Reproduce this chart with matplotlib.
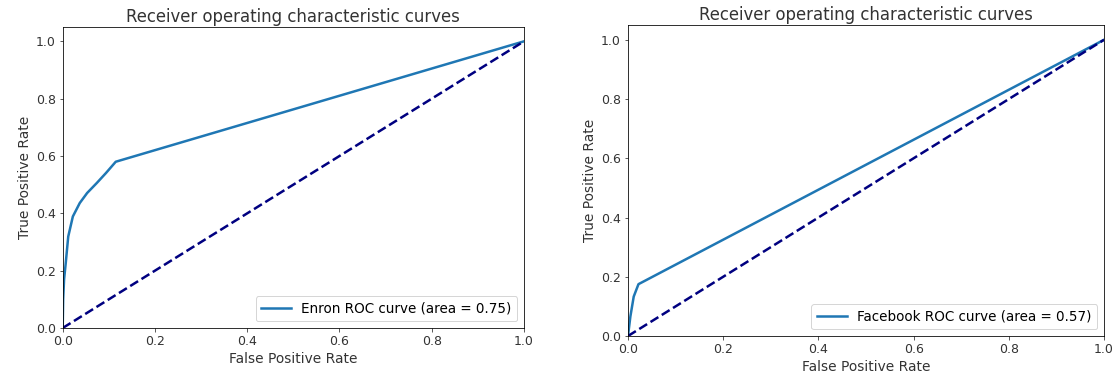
import matplotlib
matplotlib.use("Agg")
import matplotlib.pyplot as plt

# Enron ROC curve
enron_fpr = [0.0, 0.001, 0.003, 0.0065, 0.012, 0.022, 0.037, 0.053, 0.074, 0.094, 0.115, 1.0]
enron_tpr = [0.0, 0.10, 0.17, 0.225, 0.319, 0.389, 0.436, 0.471, 0.506, 0.541, 0.58, 1.0]
enron_auc = 0.75

# Facebook ROC curve
fb_fpr = [0.0, 0.005, 0.012, 0.022, 1.0]
fb_tpr = [0.0, 0.066, 0.133, 0.175, 1.0]
fb_auc = 0.57

diag = [0.0, 1.0]

W, H, DPI = 1117, 381, 72
fig = plt.figure(figsize=(W / DPI, H / DPI), dpi=DPI)

ax1 = fig.add_axes([62.7 / W, 1 - 328 / H, (524 - 62.7) / W, (328 - 27) / H])
ax2 = fig.add_axes([628 / W, 1 - 336 / H, (1104 - 628) / W, (336 - 25) / H])

for ax, fpr, tpr, name, auc in [
    (ax1, enron_fpr, enron_tpr, "Enron", enron_auc),
    (ax2, fb_fpr, fb_tpr, "Facebook", fb_auc),
]:
    ax.plot(fpr, tpr, color="#1f77b4", lw=2.5,
            label="%s ROC curve (area = %0.2f)" % (name, auc))
    ax.plot(diag, diag, color="navy", lw=2.5, linestyle="--")
    ax.set_xlim([0.0, 1.0])
    ax.set_ylim([0.0, 1.05])
    ax.set_xlabel("False Positive Rate", fontsize=13.8, color="#333333")
    ax.set_ylabel("True Positive Rate", fontsize=13.8, color="#333333")
    ax.set_title("Receiver operating characteristic curves", fontsize=16.5,
                 color="#333333", pad=5)
    ax.tick_params(labelsize=12.5, color="#333333", labelcolor="#333333")
    ax.legend(loc="lower right", fontsize=13.5, handlelength=2.2)

fig.savefig("out.png", dpi=DPI)
